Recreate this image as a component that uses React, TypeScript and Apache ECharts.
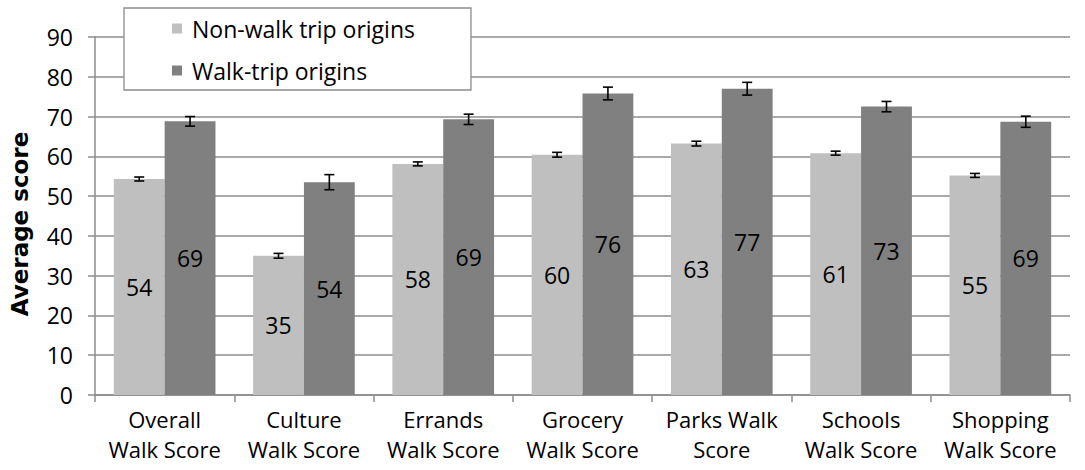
import React, { useEffect, useRef } from "react";
import * as echarts from "echarts";

const categories = [
  "Overall\nWalk Score",
  "Culture\nWalk Score",
  "Errands\nWalk Score",
  "Grocery\nWalk Score",
  "Parks Walk\nScore",
  "Schools\nWalk Score",
  "Shopping\nWalk Score",
];
const nonWalk = [54.3, 35.0, 58.1, 60.4, 63.2, 60.8, 55.2];
const walk = [68.8, 53.5, 69.3, 75.8, 77.0, 72.5, 68.7];
const nonWalkErr = [0.5, 0.6, 0.5, 0.6, 0.6, 0.5, 0.5];
const walkErr = [1.2, 1.9, 1.3, 1.6, 1.6, 1.3, 1.4];
const nonWalkLabels = ["54", "35", "58", "60", "63", "61", "55"];
const walkLabels = ["69", "54", "69", "76", "77", "73", "69"];
const yTicks = [0, 10, 20, 30, 40, 50, 60, 70, 80, 90];

const FONT = "'Open Sans', 'DejaVu Sans', sans-serif";
const FS = 23;
const CAT_GAP = 0.27;

export default function App() {
  const ref = useRef<HTMLDivElement>(null);
  useEffect(() => {
    if (!ref.current) return;
    const chart = echarts.init(ref.current, null, { renderer: "svg" });

    const errSeries = (vals: number[], errs: number[], side: number) => ({
      type: "custom",
      silent: true,
      z: 10,
      data: vals.map((v, i) => [i, v - errs[i], v + errs[i]]),
      renderItem: (params: any, api: any) => {
        const idx = api.value(0);
        const lo = api.coord([idx, api.value(1)]);
        const hi = api.coord([idx, api.value(2)]);
        const catW = api.size([1, 0])[0];
        const barW = (catW * (1 - CAT_GAP)) / 2;
        const x = lo[0] + (side * barW) / 2;
        const cap = 5;
        const style = { stroke: "#000", lineWidth: 1.6 };
        return {
          type: "group",
          children: [
            { type: "line", shape: { x1: x, y1: lo[1], x2: x, y2: hi[1] }, style },
            { type: "line", shape: { x1: x - cap, y1: lo[1], x2: x + cap, y2: lo[1] }, style },
            { type: "line", shape: { x1: x - cap, y1: hi[1], x2: x + cap, y2: hi[1] }, style },
          ],
        };
      },
    });

    const labelFmt = (labels: string[]) => (p: any) => labels[p.dataIndex];

    chart.setOption({
      animation: false,
      textStyle: { fontFamily: FONT },
      grid: { left: 94, right: 15, top: 37, bottom: 75 },
      legend: {
        orient: "vertical",
        left: 124,
        top: 8,
        padding: [9, 56, 8, 48],
        itemGap: 19,
        itemWidth: 10,
        itemHeight: 10,
        backgroundColor: "#fff",
        borderColor: "#8c8c8c",
        borderWidth: 1.3,
        textStyle: { fontSize: FS, color: "#000", fontFamily: FONT, padding: [0, 0, 0, 5] },
        data: [
          { name: "Non-walk trip origins", icon: "rect" },
          { name: "Walk-trip origins", icon: "rect" },
        ],
      },
      xAxis: {
        type: "category",
        data: categories,
        axisLine: { lineStyle: { color: "#8c8c8c", width: 1.5 } },
        axisTick: { show: true, length: 7, lineStyle: { color: "#8c8c8c", width: 1.5 } },
        axisLabel: {
          color: "#000",
          fontSize: 22,
          lineHeight: 30,
          margin: 9,
          interval: 0,
          fontFamily: FONT,
        },
      },
      yAxis: {
        type: "value",
        min: 0,
        max: 90,
        interval: 10,
        name: "Average score",
        nameLocation: "middle",
        nameGap: 64,
        nameTextStyle: {
          fontSize: FS,
          fontWeight: "bold",
          color: "#000",
          fontFamily: "'DejaVu Sans', sans-serif",
          padding: [0, 16, 0, 0],
        },
        axisLine: { show: true, lineStyle: { color: "#8c8c8c", width: 1.5 } },
        axisTick: { show: true, length: 7, lineStyle: { color: "#8c8c8c", width: 1.5 } },
        axisLabel: {
          color: "#000",
          fontSize: FS,
          margin: 22,
          fontFamily: FONT,
          formatter: (v: number) => (yTicks.includes(v) ? String(v) : ""),
        },
        splitLine: { show: true, lineStyle: { color: "#8c8c8c", width: 1.5 } },
      },
      series: [
        {
          name: "Non-walk trip origins",
          type: "bar",
          data: nonWalk,
          barGap: "0%",
          barCategoryGap: "27%",
          itemStyle: { color: "#bfbfbf" },
          label: {
            show: true,
            position: "inside",
            color: "#000",
            fontSize: FS,
            fontFamily: FONT,
            formatter: labelFmt(nonWalkLabels),
          },
        },
        {
          name: "Walk-trip origins",
          type: "bar",
          data: walk,
          barGap: "0%",
          barCategoryGap: "27%",
          itemStyle: { color: "#808080" },
          label: {
            show: true,
            position: "inside",
            color: "#000",
            fontSize: FS,
            fontFamily: FONT,
            formatter: labelFmt(walkLabels),
          },
        },
        errSeries(nonWalk, nonWalkErr, -1),
        errSeries(walk, walkErr, 1),
      ],
    });
    return () => chart.dispose();
  }, []);
  return <div ref={ref} style={{ width: 1085, height: 470, position: "absolute", left: 0, top: 0 }} />;
}
